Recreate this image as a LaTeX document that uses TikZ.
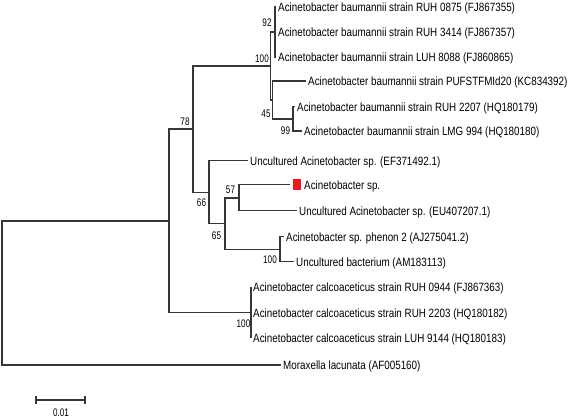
\documentclass[tikz,border=0pt]{standalone}
\usepackage{fontspec}
\setmainfont[FakeStretch=0.82]{Liberation Sans}
\newfontfamily\lblfont[FakeStretch=0.74]{Liberation Sans}
\definecolor{linec}{RGB}{55,55,55}
\definecolor{boxred}{RGB}{240,20,30}
\begin{document}
\begin{tikzpicture}[x=1pt,y=-1pt,
  br/.style={draw=linec, line width=1.1pt},
  leaf/.style={anchor=west, inner xsep=2pt, inner ysep=0pt, text height=8.6pt, text depth=0pt,
    font=\fontsize{12}{14}\selectfont, text=black},
  bs/.style={inner sep=0pt, font=\lblfont\fontsize{11}{13}\selectfont, text=black}]
\useasboundingbox (0,0) rectangle (569,418);
% leaves
\node[leaf] (l1) at (276,6.7) {Acinetobacter baumannii strain RUH 0875 (FJ867355)};
\node[leaf] (l2) at (276,32.3) {Acinetobacter baumannii strain RUH 3414 (FJ867357)};
\node[leaf] (l3) at (276,57.3) {Acinetobacter baumannii strain LUH 8088 (FJ860865)};
\node[leaf] (l4) at (306,81) {Acinetobacter baumannii strain PUFSTFMId20 (KC834392)};
\node[leaf] (l5) at (295,106.7) {Acinetobacter baumannii strain RUH 2207 (HQ180179)};
\node[leaf] (l6) at (302,131) {Acinetobacter baumannii strain LMG 994 (HQ180180)};
\node[leaf] (l7) at (248,160.7) {Uncultured Acinetobacter sp. (EF371492.1)};
\node[fill=boxred, inner sep=0pt, minimum width=8pt, minimum height=11pt, outer xsep=3pt] (redbox) at (297,184.5) {};
\node[leaf] (l8) at (302,185) {Acinetobacter sp.};
\node[leaf] (l9) at (297,210.7) {Uncultured Acinetobacter sp. (EU407207.1)};
\node[leaf] (l10) at (284,236.7) {Acinetobacter sp. phenon 2 (AJ275041.2)};
\node[leaf] (l11) at (294,261.7) {Uncultured bacterium (AM183113)};
\node[leaf] (l12) at (251,287.3) {Acinetobacter calcoaceticus strain RUH 0944 (FJ867363)};
\node[leaf] (l13) at (251,312.7) {Acinetobacter calcoaceticus strain RUH 2203 (HQ180182)};
\node[leaf] (l14) at (251,338.3) {Acinetobacter calcoaceticus strain LUH 9144 (HQ180183)};
\node[leaf] (l15) at (281,365) {Moraxella lacunata (AF005160)};
% internal nodes
\coordinate (r) at (2,293);
\coordinate (nA) at (169,221);
\coordinate (n78) at (193,129);
\coordinate (n100a) at (270.7,66);
\coordinate (n92) at (275,32);
\coordinate (n45) at (272.5,100);
\coordinate (n99) at (293,119);
\coordinate (n66) at (209,192.3);
\coordinate (n65) at (225,223.5);
\coordinate (n57) at (239,198);
\coordinate (nph) at (280,249.2);
\coordinate (ncal) at (251,312.8);
% branches
\draw[br] (r) |- (nA);
\draw[br] (r) |- (l15.west);
\draw[br] (nA) |- (n78);
\draw[br] (nA) |- (ncal);
\draw[br] (n78) |- (n100a);
\draw[br] (n78) |- (n66);
\draw[br] (n100a) |- (n92);
\draw[br] (n100a) |- (n45);
\draw[br] (n92) |- (l1.west);
\draw[br] (n92) |- (l2.west);
\draw[br] (n92) |- (l3.west);
\draw[br] (n45) |- (l4.west);
\draw[br] (n45) |- (n99);
\draw[br] (n99) |- (l5.west);
\draw[br] (n99) |- (l6.west);
\draw[br] (n66) |- (l7.west);
\draw[br] (n66) |- (n65);
\draw[br] (n65) |- (n57);
\draw[br] (n65) |- (nph);
\draw[br] (n57) |- (redbox.west);
\draw[br] (n57) |- (l9.west);
\draw[br] (nph) |- (l10.west);
\draw[br] (nph) |- (l11.west);
\draw[br] (ncal) |- (l12.west);
\draw[br] (ncal) |- (l13.west);
\draw[br] (ncal) |- (l14.west);
% bootstrap values
\node[bs] (b92) at (267,23) {92};
\node[bs] (b100a) at (262,59) {100};
\node[bs] (b45) at (266,114) {45};
\node[bs] (b99) at (285.5,131) {99};
\node[bs] (b78) at (185,121.5) {78};
\node[bs] (b66) at (201.5,202.5) {66};
\node[bs] (b57) at (230.5,190) {57};
\node[bs] (b65) at (216.5,236) {65};
\node[bs] (b100b) at (270,260) {100};
\node[bs] (b100c) at (243.5,324) {100};
% scale bar
\coordinate (sb1) at (36,400);
\coordinate (sb2) at (85,400);
\draw[br] (sb1) -- (sb2);
\draw[br] ([yshift=-4pt]sb1) -- ([yshift=4pt]sb1);
\draw[br] ([yshift=-4pt]sb2) -- ([yshift=4pt]sb2);
\node[bs] (sbl) at (61,413) {0.01};
\end{tikzpicture}
\end{document}
